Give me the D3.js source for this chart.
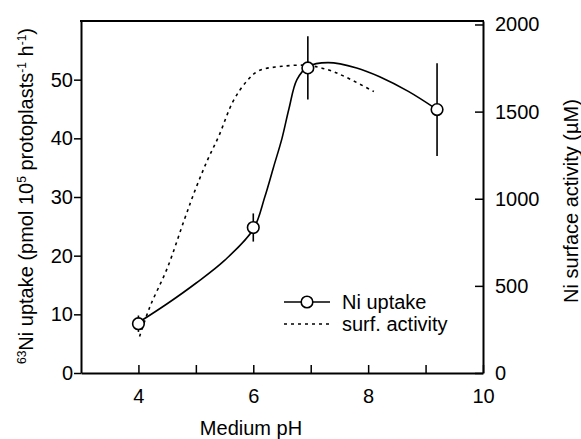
<!DOCTYPE html>
<meta charset="utf-8">
<title>Ni uptake vs medium pH</title>
<style>
  body { margin: 0; background: #fff; }
  text { font-family: "Liberation Sans", Arial, sans-serif; fill: #000; }
</style>
<body>
<script src="https://cdn.jsdelivr.net/npm/d3@7"></script>
<script>
var phPts     = [4.0, 6.0, 6.95, 9.2];
var uptakePts = [8.4, 24.8, 52.0, 44.9];
var uptakeErr = [1.4, 2.4, 5.4, 7.9];

// fitted curve through the uptake points
var curvePh     = [4.0, 4.5, 5.0, 5.5, 6.0, 6.2, 6.35, 6.5, 6.62, 6.76, 6.95, 7.3, 7.8, 8.2, 8.7, 9.2];
var curveUptake = [8.6, 11.8, 15.3, 19.2, 24.5, 30.0, 35.0, 40.0, 45.0, 50.0, 52.2, 52.9, 52.0, 50.5, 48.0, 44.9];

// surface activity (uM), right axis
var surfPh  = [4.02, 4.2, 4.5, 4.8, 5.0, 5.2, 5.4, 5.65, 5.9, 6.1, 6.5, 6.95, 7.3, 7.6, 8.1];
var surfAct = [210, 380, 600, 880, 1060, 1220, 1360, 1560, 1680, 1735, 1760, 1765, 1740, 1700, 1615];

var xTicks  = [4, 5, 6, 7, 8, 9, 10];
var yLTicks = [0, 10, 20, 30, 40, 50];
var yRTicks = [0, 500, 1000, 1500, 2000];
var legendLabels = ['Ni uptake', 'surf. activity'];

var W = 581, H = 439;
var padL = 81, padR = 483, padT = 21, padB = 373;
var fs = '20px';

var svg = d3.select('body').append('svg')
            .attr('width', W)
            .attr('height', H);

var x  = d3.scaleLinear().domain([3, 10]).range([padL, padR]);
var yL = d3.scaleLinear().domain([0, 60]).range([padB, padT]);
var yR = d3.scaleLinear().domain([0, 2020]).range([padB, padT]);

// axes =====================================================================
var gx = svg.append('g')
  .attr('transform', 'translate(0,' + padB + ')')
  .call(d3.axisBottom(x).tickValues(xTicks).tickSizeInner(-8).tickSizeOuter(0).tickPadding(16)
        .tickFormat(function(d){ return d % 2 == 0 ? d : ''; }));

var gl = svg.append('g')
  .attr('transform', 'translate(' + padL + ',0)')
  .call(d3.axisLeft(yL).tickValues(yLTicks).tickSizeInner(7).tickSizeOuter(0).tickPadding(1));

var gr = svg.append('g')
  .attr('transform', 'translate(' + padR + ',0)')
  .call(d3.axisRight(yR).tickValues(yRTicks).tickFormat(d3.format('d'))
        .tickSizeInner(-8).tickSizeOuter(0).tickPadding(12));

[gx, gl, gr].forEach(function(g){
  g.select('.domain').attr('stroke-width', 2);
  g.selectAll('.tick line').attr('stroke-width', 1.5);
  g.selectAll('.tick text').style('font-size', fs).attr('fill', '#000');
});

svg.append('line')
  .attr('x1', padL - 1).attr('x2', padR + 1)
  .attr('y1', padT).attr('y2', padT)
  .attr('stroke', '#000').attr('stroke-width', 2);

// axis titles
svg.append('text')
  .attr('x', 251).attr('y', 435)
  .attr('text-anchor', 'middle')
  .style('font-size', fs)
  .text('Medium pH');

var yt = svg.append('text')
  .attr('transform', 'translate(33,196) rotate(-90)')
  .attr('text-anchor', 'middle')
  .style('font-size', fs);
yt.append('tspan').attr('dy', -7).style('font-size', '12px').text('63');
yt.append('tspan').attr('dy', 7).text('Ni uptake (pmol 10');
yt.append('tspan').attr('dy', -7).style('font-size', '12px').text('5');
yt.append('tspan').attr('dy', 7).text(' protoplasts');
yt.append('tspan').attr('dy', -7).style('font-size', '12px').text('-1');
yt.append('tspan').attr('dy', 7).text(' h');
yt.append('tspan').attr('dy', -7).style('font-size', '12px').text('-1');
yt.append('tspan').attr('dy', 7).text(')');

svg.append('text')
  .attr('transform', 'translate(578,201) rotate(-90)')
  .attr('text-anchor', 'middle')
  .style('font-size', fs)
  .text('Ni surface activity (\u00b5M)');

// lines ====================================================================
var surfLine = d3.line()
  .x(function(d){ return x(d[0]); })
  .y(function(d){ return yR(d[1]); })
  .curve(d3.curveCatmullRom.alpha(0.5));

svg.append('path')
  .datum(d3.zip(surfPh, surfAct))
  .attr('d', surfLine)
  .attr('fill', 'none')
  .attr('stroke', '#000')
  .attr('stroke-width', 1.6)
  .attr('stroke-dasharray', '3,4');

var upLine = d3.line()
  .x(function(d){ return x(d[0]); })
  .y(function(d){ return yL(d[1]); })
  .curve(d3.curveCatmullRom.alpha(0.5));

svg.append('path')
  .datum(d3.zip(curvePh, curveUptake))
  .attr('d', upLine)
  .attr('fill', 'none')
  .attr('stroke', '#000')
  .attr('stroke-width', 1.6);

// error bars + circles
for (var i = 0; i < phPts.length; i++) {
  svg.append('line')
    .attr('x1', x(phPts[i])).attr('x2', x(phPts[i]))
    .attr('y1', yL(uptakePts[i] - uptakeErr[i]))
    .attr('y2', yL(uptakePts[i] + uptakeErr[i]))
    .attr('stroke', '#000').attr('stroke-width', 1.6);
  svg.append('circle')
    .attr('cx', x(phPts[i])).attr('cy', yL(uptakePts[i]))
    .attr('r', 5.8)
    .attr('fill', '#fff').attr('stroke', '#000').attr('stroke-width', 1.6);
}

// legend ===================================================================
var lg = svg.append('g');
lg.append('line').attr('x1', 284).attr('x2', 330).attr('y1', 302).attr('y2', 302)
  .attr('stroke', '#000').attr('stroke-width', 1.6);
lg.append('circle').attr('cx', 307).attr('cy', 302).attr('r', 5.8)
  .attr('fill', '#fff').attr('stroke', '#000').attr('stroke-width', 1.6);
lg.append('line').attr('x1', 284).attr('x2', 330).attr('y1', 324).attr('y2', 324)
  .attr('stroke', '#000').attr('stroke-width', 1.6).attr('stroke-dasharray', '3,4');
legendLabels.forEach(function(t, i){
  lg.append('text')
    .attr('x', 342).attr('y', 309 + i * 22)
    .style('font-size', fs)
    .text(t);
});
</script>
</body>
